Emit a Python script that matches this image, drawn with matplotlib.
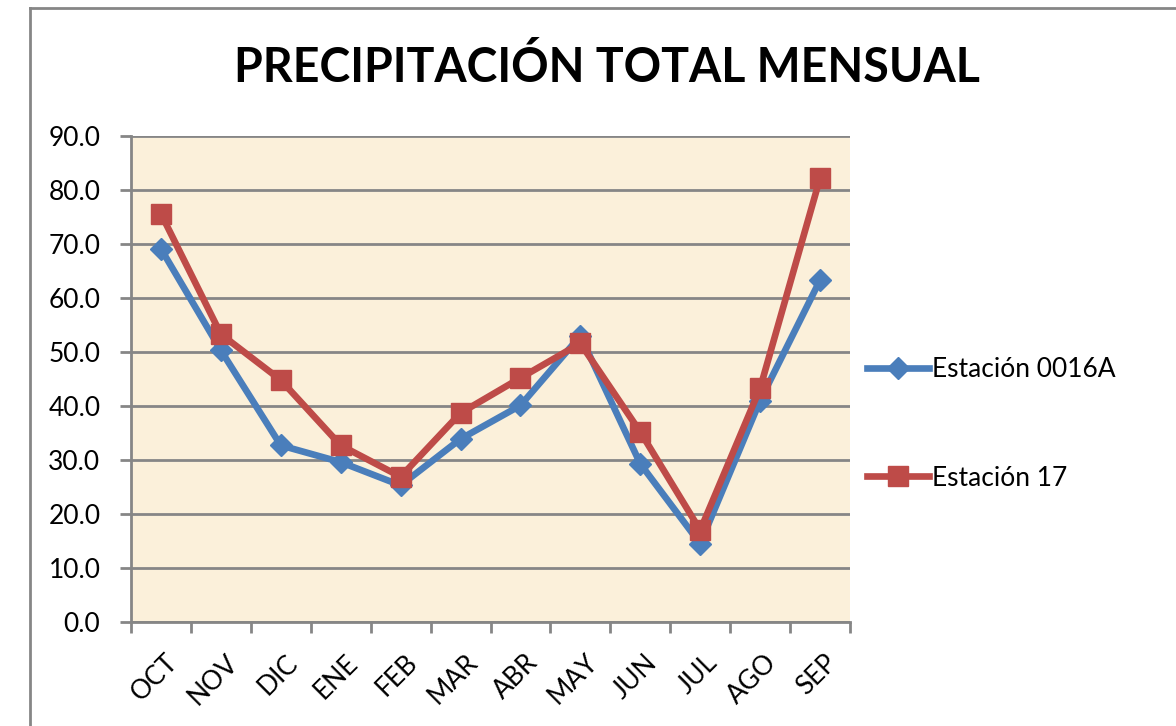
import matplotlib
matplotlib.use('Agg')
import matplotlib.pyplot as plt
from matplotlib.lines import Line2D

meses = ['OCT', 'NOV', 'DIC', 'ENE', 'FEB', 'MAR', 'ABR', 'MAY', 'JUN', 'JUL', 'AGO', 'SEP']
est_0016a = [69.1, 50.3, 32.7, 29.6, 25.3, 33.9, 40.1, 53.0, 29.3, 14.5, 41.0, 63.3]
est_17 = [75.6, 53.3, 44.8, 32.7, 26.9, 38.7, 45.2, 51.6, 35.2, 17.0, 43.3, 82.2]
yticks = [0, 10, 20, 30, 40, 50, 60, 70, 80, 90]

plt.rcParams['font.family'] = ['Lato', 'DejaVu Sans']

fig = plt.figure(figsize=(11.76, 7.26), dpi=100)
ax = fig.add_axes([131 / 1176, 1 - 622 / 726, 719 / 1176, 486 / 726])
ax.set_facecolor('#FBF0DA')

gris = '#868686'
azul = '#4A7EBB'
rojo = '#BE4B48'

x = list(range(len(meses)))
ax.plot(x, est_0016a, color=azul, lw=4.8, marker='D', ms=11, mec=azul, mfc=azul,
        label='Estación 0016A', zorder=3)
ax.plot(x, est_17, color=rojo, lw=4.8, marker='s', ms=15, mec=rojo, mfc=rojo,
        label='Estación 17', zorder=4)

ax.set_xlim(-0.5, 11.5)
ax.set_ylim(0, 90)
ax.set_yticks(yticks)
ax.set_yticklabels([f'{v:.1f}' for v in yticks], fontsize=19)
ax.yaxis.grid(True, color=gris, lw=2)
ax.set_axisbelow(True)

# marcas en los limites de cada mes, etiquetas al centro
ax.set_xticks([i - 0.5 for i in range(13)])
ax.set_xticklabels([])
ax.set_xticks([i + 0.07 for i in x], minor=True)
ax.set_xticklabels(meses, minor=True, rotation=45, ha='right', rotation_mode='anchor',
                   fontsize=19)
ax.tick_params(axis='x', which='minor', length=0, pad=20)
ax.tick_params(axis='x', which='major', length=8, width=2, color=gris, direction='out')
ax.tick_params(axis='y', length=8, width=2, color=gris, direction='out', pad=14)

for s in ['top', 'right']:
    ax.spines[s].set_visible(False)
for s in ['left', 'bottom']:
    ax.spines[s].set_color(gris)
    ax.spines[s].set_linewidth(2)

fig.text(607 / 1176, 1 - 67 / 726, 'PRECIPITACIÓN TOTAL MENSUAL', ha='center', va='center',
         fontsize=33.5, fontweight='bold')

leg = fig.legend(loc='center left', bbox_to_anchor=(854 / 1176, 1 - 424 / 726), frameon=False,
                 fontsize=19, handlelength=2.33, handletextpad=0.12, labelspacing=3.15,
                 borderpad=0)

# borde exterior del grafico
fig.add_artist(Line2D([30 / 1176, 30 / 1176], [0, 1 - 8 / 726], color=gris, lw=2))
fig.add_artist(Line2D([30 / 1176, 1], [1 - 8 / 726, 1 - 8 / 726], color=gris, lw=2))

fig.savefig('out.png', dpi=100)
